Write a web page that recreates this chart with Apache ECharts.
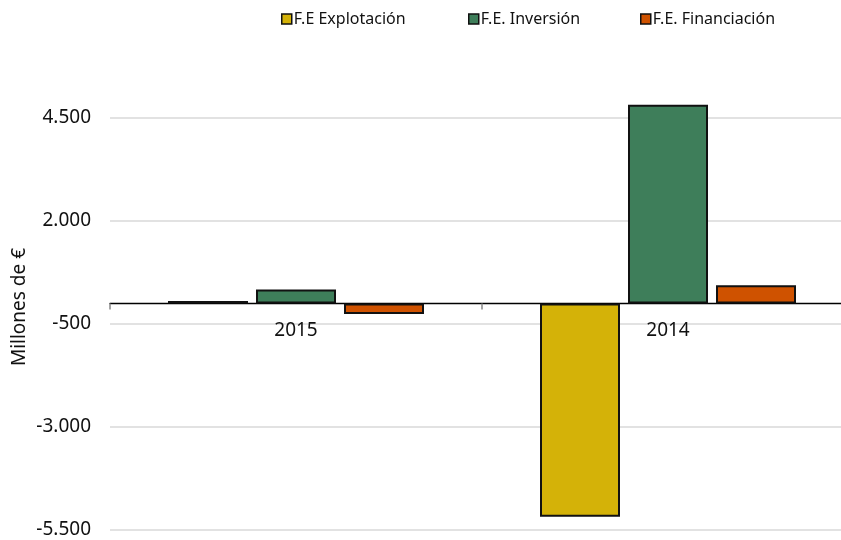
<!DOCTYPE html>
<html>
<head>
<meta charset="utf-8">
<script src="https://cdn.jsdelivr.net/npm/echarts@6/dist/echarts.min.js"></script>
<style>
  html, body { margin: 0; padding: 0; background: #fff; }
  #chart { width: 841px; height: 540px; }
</style>
</head>
<body>
<div id="chart"></div>
<script>
// Cash flows by year (millions of euros)
const years = ['2015', '2014'];
const seriesNames = ['F.E Explotación', 'F.E. Inversión', 'F.E. Financiación'];
const explotacion = [60, -5180];
const inversion = [340, 4820];
const financiacion = [-260, 440];
const yTicks = [-5500, -3000, -500, 2000, 4500];

const colors = ['#D4B208', '#3E7E5A', '#CF5200'];
const FONT = 'Noto Sans';

// Spanish-style thousands separator: 4.500, -3.000
function fmt(v) {
  const s = Math.abs(v).toString().replace(/\B(?=(\d{3})+(?!\d))/g, '.');
  return (v < 0 ? '-' : '') + s;
}

const chart = echarts.init(document.getElementById('chart'), null, { renderer: 'canvas' });

const values = [explotacion, inversion, financiacion];
const legendLeft = [281, 468, 640];

const gridTop = 118, gridHeight = 412;
const yMin = yTicks[0], yMax = yTicks[yTicks.length - 1];
// lift the category axis (line + labels) up to the zero baseline
const zeroOffset = -(0 - yMin) / (yMax - yMin) * gridHeight;

const option = {
  animation: false,
  backgroundColor: '#ffffff',
  textStyle: { fontFamily: FONT },
  legend: seriesNames.map((name, i) => ({
    data: [name],
    top: 11,
    left: legendLeft[i],
    icon: 'rect',
    itemWidth: 10,
    itemHeight: 10,
    itemGap: 0,
    padding: 0,
    textStyle: { fontFamily: FONT, fontSize: 16, color: '#111', padding: [0, 0, 0, -3] },
    itemStyle: { borderColor: '#111', borderWidth: 1.5 }
  })),
  grid: { left: 110, top: gridTop, width: 744, height: gridHeight, containLabel: false, outerBoundsMode: 'none' },
  xAxis: {
    type: 'category',
    data: years,
    position: 'bottom',
    offset: zeroOffset,
    axisLine: { onZero: false, lineStyle: { color: '#000', width: 1.3 } },
    axisTick: { show: true, length: 6, lineStyle: { color: '#888', width: 1.5 } },
    axisLabel: { fontFamily: FONT, fontSize: 19, color: '#111', margin: 18 },
    splitLine: { show: false }
  },
  yAxis: {
    type: 'value',
    min: yMin,
    max: yMax,
    interval: 2500,
    name: 'Millones de €',
    nameLocation: 'middle',
    nameGap: 81,
    nameMoveOverlap: false,
    nameTextStyle: { fontFamily: FONT, fontSize: 19, color: '#111', padding: [0, 0, 0, 34] },
    axisLine: { show: false },
    axisTick: { show: false },
    axisLabel: { fontFamily: FONT, fontSize: 19, color: '#111', margin: 19, formatter: fmt },
    splitLine: { show: true, lineStyle: { color: '#d9d9d9', width: 1.5 } }
  },
  series: seriesNames.map((name, i) => ({
    name: name,
    type: 'bar',
    data: values[i],
    barWidth: 80,
    barGap: '10%',
    clip: false,
    itemStyle: { color: colors[i], borderColor: '#111', borderWidth: 2 }
  }))
};

chart.setOption(option);
</script>
</body>
</html>
